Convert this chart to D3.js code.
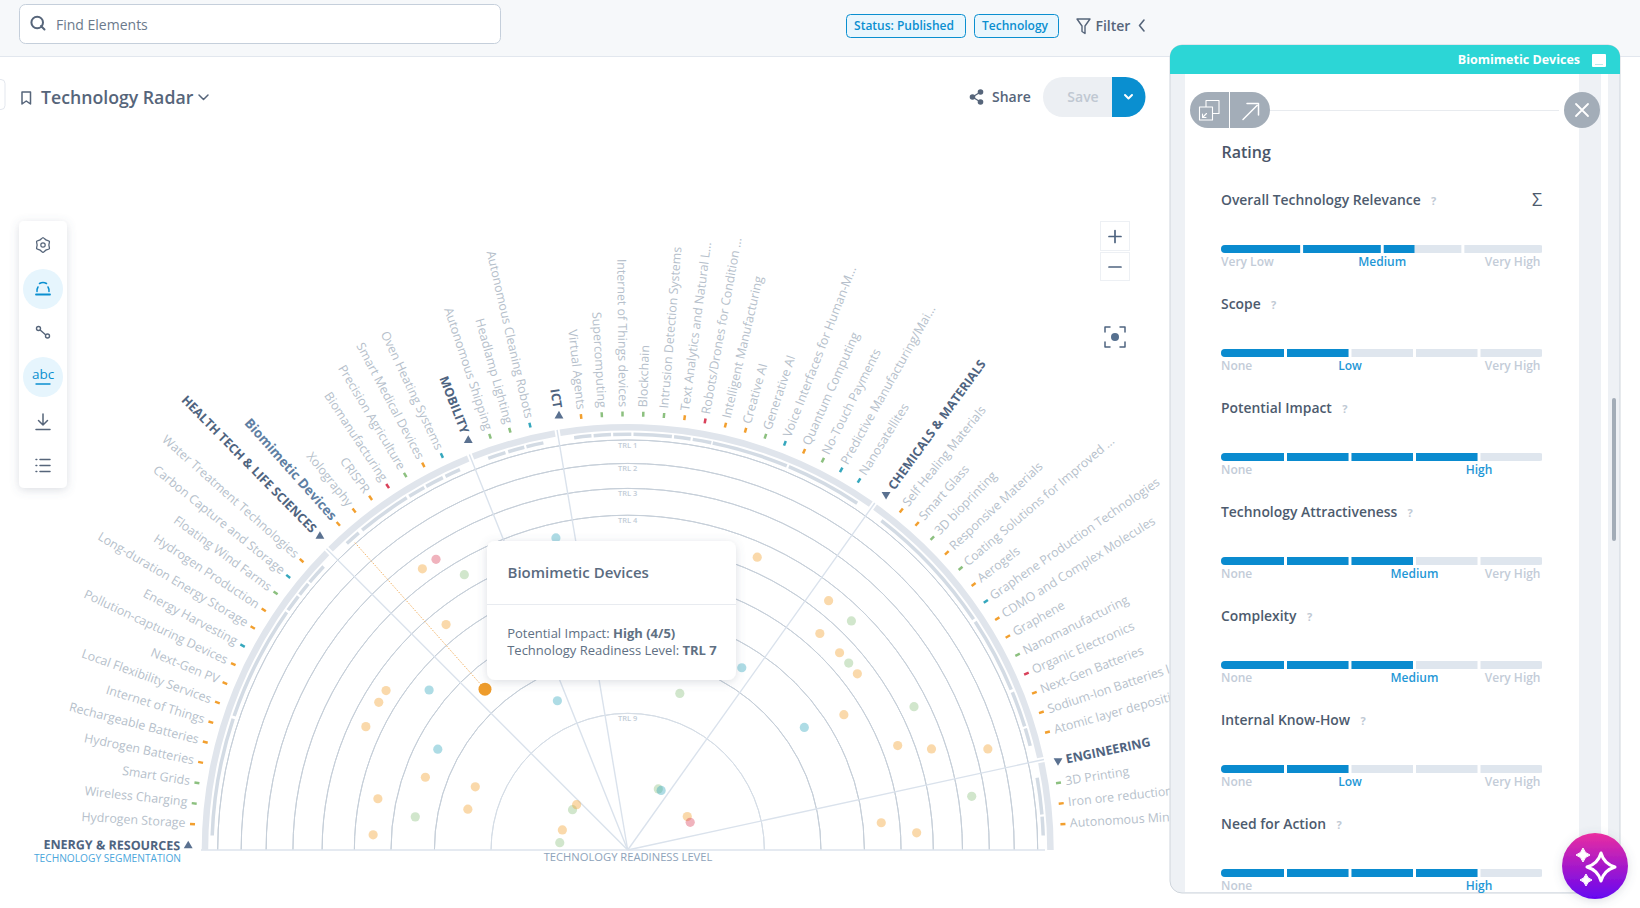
<!DOCTYPE html>
<html>
<head>
<meta charset="utf-8">
<title>Technology Radar</title>
<script src="https://cdn.jsdelivr.net/npm/d3@7"></script>
<style>
  html, body { margin: 0; padding: 0; background: #fff; overflow: hidden; }
  svg { display: block; font-family: "Open Sans", sans-serif; }
</style>
</head>
<body>
<div id="chart"></div>
<script>
// segments around the half circle, left to right
var groupNames = ["ENERGY & RESOURCES", "HEALTH TECH & LIFE SCIENCES", "MOBILITY", "ICT", "CHEMICALS & MATERIALS", "ENGINEERING"];
var groupSizes = [15, 7, 3, 15, 14, 3];

var techNames = [
  "Hydrogen Storage", "Wireless Charging", "Smart Grids", "Hydrogen Batteries", "Rechargeable Batteries",
  "Internet of Things", "Local Flexibility Services", "Next-Gen PV", "Pollution-capturing Devices", "Energy Harvesting",
  "Long-duration Energy Storage", "Hydrogen Production", "Floating Wind Farms", "Carbon Capture and Storage", "Water Treatment Technologies",
  "Biomimetic Devices", "Xolography", "CRISPR", "Biomanufacturing", "Precision Agriculture", "Smart Medical Devices", "Oven Heating Systems",
  "Autonomous Shipping", "Headlamp Lighting", "Autonomous Cleaning Robots",
  "Virtual Agents", "Supercomputing", "Internet of Things devices", "Blockchain", "Intrusion Detection Systems",
  "Text Analytics and Natural L...", "Robots/Drones for Condition ...", "Intelligent Manufacturing", "Creative AI", "Generative AI",
  "Voice Interfaces for Human-M...", "Quantum Computing", "No-Touch Payments", "Predictive Manufacturing/Mai...", "Nanosatellites",
  "Self Healing Materials", "Smart Glass", "3D bioprinting", "Responsive Materials", "Coating Solutions for Improved ...",
  "Aerogels", "Graphene Production Technologies", "CDMO and Complex Molecules", "Graphene", "Nanomanufacturing",
  "Organic Electronics", "Next-Gen Batteries", "Sodium-Ion Batteries l...", "Atomic layer deposition",
  "3D Printing", "Iron ore reduction", "Autonomous Mining"
];

// o orange, g green, t teal, r red
var techStatus = [
  "o","g","g","o","o","o","o","o","o","t","o","o","g","t","o",
  "o","o","o","r","g","o","t",
  "g","g","t",
  "o","g","g","g","g","o","r","o","o","g","t","o","g","t","t",
  "o","o","g","o","g","o","t","o","o","g","r","o","o","o",
  "g","o","o"
];

// readiness level per technology, null = hidden under the tooltip
var techTrl = [
  6,9,7,6,8,9,7,8,5,7,5,5,9,6,9,
  7,5,3,3,4,null,8,
  null,null,4,
  null,null,null,null,null,null,null,null,null,8,null,4,9,9,7,
  4,5,4,5,5,5,7,6,9,4,9,5,4,2,
  3,6,5
];

var selectedTech = "Biomimetic Devices";

// inner sub bars, start and end in degrees from the left end
var subBarStart = [2, 18.8, 35.2, 37.9, 40.1, 47.5, 50.3, 58.3, 61, 64, 70.4, 73.3, 75.9, 82.6, 85.3, 88, 90.8, 96.4, 99, 101.8, 112.8, 127.6, 146.7, 157.7, 163, 170, 175.4];
var subBarEnd   = [18.4, 34.9, 37.6, 39.8, 43, 49.7, 57.9, 60.7, 63.6, 66.2, 72.9, 75.6, 78.3, 85, 87.7, 90.5, 96.1, 98.7, 101.6, 112.5, 123.5, 146.3, 157.3, 162.7, 165.5, 175.1, 178];

var trlLevels = [1, 2, 3, 4, 5, 6, 7, 8, 9];
// ring captions that are not under the tooltip
var trlCaptions = [1, 2, 3, 4, 9];

// rating panel
var ratingNames = ["Overall Technology Relevance", "Scope", "Potential Impact", "Technology Attractiveness", "Complexity", "Internal Know-How", "Need for Action"];
var ratingSteps = [4, 5, 5, 5, 5, 5, 5];
var ratingValues = [2.4, 2, 4, 3, 3, 2, 4];
var ratingLabelAt = [2, 2, 4, 3, 3, 2, 4];
var ratingLow = ["Very Low", "None", "None", "None", "None", "None", "None"];
var ratingText = ["Medium", "Low", "High", "Medium", "Medium", "Low", "High"];
var ratingHigh = ["Very High", "Very High", "", "Very High", "Very High", "Very High", ""];

var statusColor = { o: "#f29f2e", g: "#8cc07f", t: "#35a7bd", r: "#d9415a" };

var width = 1640, height = 908, cx = 627.7, cy = 850;

var svg = d3.select("#chart").append("svg").attr("width", width).attr("height", height);

var defs = svg.append("defs");
var shadow = defs.append("filter").attr("id", "shadow").attr("x", "-20%").attr("y", "-20%").attr("width", "140%").attr("height", "140%");
shadow.append("feDropShadow").attr("dx", 0).attr("dy", 2).attr("stdDeviation", 5).attr("flood-color", "#5a6b7f").attr("flood-opacity", 0.22);
var grad = defs.append("linearGradient").attr("id", "magic").attr("x1", 0).attr("y1", 0).attr("x2", 0).attr("y2", 1);
grad.append("stop").attr("offset", "0%").attr("stop-color", "#ea2ea0");
grad.append("stop").attr("offset", "100%").attr("stop-color", "#6505f2");

function label(parent, x, y, str, size, color, weight, anchor) {
  return parent.append("text")
    .attr("x", x).attr("y", y - 0.8)
    .attr("dominant-baseline", "central")
    .attr("text-anchor", anchor || "start")
    .attr("font-size", size)
    .attr("font-weight", weight || 400)
    .attr("fill", color)
    .text(str);
}

function icon(parent, d, stroke, sw) {
  return parent.append("path").attr("d", d).attr("fill", "none").attr("stroke", stroke).attr("stroke-width", sw || 1.5)
    .attr("stroke-linecap", "round").attr("stroke-linejoin", "round");
}

// ------- scales -------
var angleScale = d3.scaleLinear().domain([0, 66]).range([0, 180]);
var radiusScale = d3.scaleSqrt().domain([0, 9]).range([0, 410]);

function ringRadius(trl) { return radiusScale(10 - trl); }
function bandRadius(trl) { return (ringRadius(trl) + ringRadius(trl + 1)) / 2; }
function polar(deg, r) {
  var a = deg * Math.PI / 180;
  return [cx - r * Math.cos(a), cy - r * Math.sin(a)];
}
function arcAngle(deg) { return (deg - 90) * Math.PI / 180; }

// slot position of every technology and every group boundary
var techSlots = [], groupBounds = [0];
var slot = 0;
groupSizes.forEach(function(n) {
  slot += 1.25;
  for (var i = 0; i < n; i++) {
    techSlots.push(slot);
    if (i < n - 1) slot += 1;
  }
  slot += 1.25;
  groupBounds.push(slot);
});

var techs = techNames.map(function(name, i) {
  return { name: name, status: techStatus[i], trl: techTrl[i], angle: angleScale(techSlots[i]) };
});

var radar = svg.append("g");

// ------- rings -------
radar.selectAll(".ring").data(trlLevels).enter().append("path")
  .attr("class", "ring")
  .attr("d", function(d) {
    return d3.arc()({ innerRadius: ringRadius(d), outerRadius: ringRadius(d), startAngle: arcAngle(0), endAngle: arcAngle(180) });
  })
  .attr("transform", "translate(" + cx + "," + cy + ")")
  .attr("fill", "none")
  .attr("stroke", function(d) { return d == 9 ? "#d5dde6" : "#c6cfd9"; })
  .attr("stroke-width", 1);

radar.selectAll(".trl").data(trlCaptions).enter().append("text")
  .attr("class", "trl")
  .attr("x", cx)
  .attr("y", function(d) { return cy - ringRadius(d) + 5; })
  .attr("dominant-baseline", "central")
  .attr("text-anchor", "middle")
  .attr("font-size", 7.5)
  .attr("font-weight", 600)
  .attr("fill", "#c2ccd7")
  .text(function(d) { return "TRL " + d; });

// base line and group dividers
radar.append("line").attr("x1", 201).attr("x2", 1045).attr("y1", cy).attr("y2", cy).attr("stroke", "#dde3ec").attr("stroke-width", 1.6);

radar.selectAll(".divider").data(groupBounds.slice(1, -1)).enter().append("line")
  .attr("class", "divider")
  .attr("x1", cx).attr("y1", cy)
  .attr("x2", function(d) { return polar(angleScale(d), 426)[0]; })
  .attr("y2", function(d) { return polar(angleScale(d), 426)[1]; })
  .attr("stroke", "#dae2ec")
  .attr("stroke-width", 1.4);

// outer band, one piece per group
var band = d3.arc().innerRadius(419.5).outerRadius(426);
radar.selectAll(".band").data(d3.range(groupNames.length)).enter().append("path")
  .attr("class", "band")
  .attr("transform", "translate(" + cx + "," + cy + ")")
  .attr("d", function(i) {
    var a0 = angleScale(groupBounds[i]) + (i ? 0.35 : 0);
    var a1 = angleScale(groupBounds[i + 1]) - (i < groupNames.length - 1 ? 0.35 : 0);
    return band({ startAngle: arcAngle(a0), endAngle: arcAngle(a1) });
  })
  .attr("fill", "#e0e5ec");

// inner sub bars
var subBar = d3.arc().innerRadius(414).outerRadius(417.5);
radar.selectAll(".subbar").data(subBarStart).enter().append("path")
  .attr("class", "subbar")
  .attr("transform", "translate(" + cx + "," + cy + ")")
  .attr("d", function(d, i) {
    return subBar({ startAngle: arcAngle(d), endAngle: arcAngle(subBarEnd[i]) });
  })
  .attr("fill", "#d3dbe4");

// ticks
radar.selectAll(".tick").data(techs).enter().append("line")
  .attr("class", "tick")
  .attr("x1", function(d) { return polar(d.angle, 433.5)[0]; })
  .attr("y1", function(d) { return polar(d.angle, 433.5)[1]; })
  .attr("x2", function(d) { return polar(d.angle, 438.5)[0]; })
  .attr("y2", function(d) { return polar(d.angle, 438.5)[1]; })
  .attr("stroke", function(d) { return statusColor[d.status]; })
  .attr("stroke-width", 2.5);

// technology names
radar.selectAll(".tech").data(techs).enter().append("text")
  .attr("class", "tech")
  .attr("transform", function(d) {
    var p = polar(d.angle, 443);
    var rot = d.angle <= 90 ? d.angle : d.angle - 180;
    return "translate(" + p[0] + "," + p[1] + ") rotate(" + rot + ")";
  })
  .attr("y", -1)
  .attr("dominant-baseline", "central")
  .attr("text-anchor", function(d) { return d.angle <= 90 ? "end" : "start"; })
  .attr("font-size", function(d) { return d.name == selectedTech ? 13.4 : 12.4; })
  .attr("font-weight", function(d) { return d.name == selectedTech ? 700 : 400; })
  .attr("fill", function(d) { return d.name == selectedTech ? "#5f7fa3" : "#b6bfcb"; })
  .text(function(d) { return d.name; });

// group names with their small triangle
var groupAngles = groupBounds.slice(0, -1).map(function(b) { return angleScale(b) + 0.55; });

radar.selectAll(".group").data(groupNames).enter().append("text")
  .attr("class", "group")
  .attr("transform", function(d, i) {
    var p = polar(groupAngles[i], 447.5);
    var rot = groupAngles[i] <= 90 ? groupAngles[i] : groupAngles[i] - 180;
    return "translate(" + p[0] + "," + p[1] + ") rotate(" + rot + ")";
  })
  .attr("dominant-baseline", "central")
  .attr("text-anchor", function(d, i) { return groupAngles[i] <= 90 ? "end" : "start"; })
  .attr("font-size", 12.5)
  .attr("font-weight", 700)
  .attr("fill", "#4f6480")
  .text(function(d) { return d; });

radar.selectAll(".marker").data(groupNames).enter().append("path")
  .attr("class", "marker")
  .attr("d", d3.symbol().type(d3.symbolTriangle).size(34))
  .attr("transform", function(d, i) {
    var p = polar(groupAngles[i], 439.5);
    return "translate(" + p[0] + "," + p[1] + ") rotate(" + (groupAngles[i] <= 90 ? 0 : 180) + ")";
  })
  .attr("fill", "#5a7190");

// selection guide and points
var selected = techs.filter(function(d) { return d.name == selectedTech; })[0];
var guideA = polar(selected.angle, 411), guideB = polar(selected.angle, bandRadius(selected.trl));
radar.append("line")
  .attr("x1", guideA[0]).attr("y1", guideA[1]).attr("x2", guideB[0]).attr("y2", guideB[1])
  .attr("stroke", "#f3b468").attr("stroke-width", 1).attr("stroke-dasharray", "1.5,1.5");

var dots = techs.filter(function(d) { return d.trl != null; });
radar.selectAll(".dot").data(dots).enter().append("circle")
  .attr("class", "dot")
  .attr("cx", function(d) { return polar(d.angle, bandRadius(d.trl))[0]; })
  .attr("cy", function(d) { return polar(d.angle, bandRadius(d.trl))[1]; })
  .attr("r", function(d) { return d.name == selectedTech ? 6.5 : 4.6; })
  .attr("fill", function(d) { return d.name == selectedTech ? "#ee9c2c" : statusColor[d.status]; })
  .attr("opacity", function(d) { return d.name == selectedTech ? 1 : 0.4; });

// axis captions
label(radar, 628, 857, "TECHNOLOGY READINESS LEVEL", 11.2, "#8ea3ba", 400, "middle");
label(radar, 181, 858.5, "TECHNOLOGY SEGMENTATION", 10.2, "#4aa6dc", 400, "end");

// ------- tooltip -------
var tip = svg.append("g");
tip.append("rect").attr("x", 487).attr("y", 541).attr("width", 249).attr("height", 139).attr("rx", 8)
  .attr("fill", "#fff").attr("filter", "url(#shadow)");
label(tip, 507.5, 572.5, "Biomimetic Devices", 15, "#5a6b7f", 600);
tip.append("line").attr("x1", 487).attr("x2", 736).attr("y1", 604.5).attr("y2", 604.5).attr("stroke", "#e8ebf0");
var t1 = label(tip, 507.2, 633.5, "Potential Impact: ", 13, "#607083");
t1.append("tspan").attr("font-weight", 700).text("High (4/5)");
var t2 = label(tip, 507.2, 650.5, "Technology Readiness Level: ", 13, "#607083");
t2.append("tspan").attr("font-weight", 700).text("TRL 7");

// ------- top bar -------
var top_ = svg.append("g");
top_.append("rect").attr("width", width).attr("height", 56).attr("fill", "#f6f8fa");
top_.append("line").attr("x1", 0).attr("x2", width).attr("y1", 56.5).attr("y2", 56.5).attr("stroke", "#e2e7ee");
top_.append("rect").attr("x", 19.5).attr("y", 4.5).attr("width", 481).attr("height", 39).attr("rx", 6).attr("fill", "#fff").attr("stroke", "#c5cfdb");
icon(top_, "M44.5 29.5l-3.5-3.500M43 22.500a5.800 5.800 0 1 1-11.600 0a5.800 5.800 0 1 1 11.600 0z", "#56657a", 2);
label(top_, 56, 25.3, "Find Elements", 14, "#6b7a8c");

top_.append("rect").attr("x", 846.5).attr("y", 14.5).attr("width", 119).attr("height", 23).attr("rx", 4).attr("fill", "#e9f6fd").attr("stroke", "#0a8fd0");
label(top_, 904, 26, "Status: Published", 12, "#0a8fd0", 600, "middle");
top_.append("rect").attr("x", 974.5).attr("y", 14.5).attr("width", 84).attr("height", 23).attr("rx", 4).attr("fill", "#e9f6fd").attr("stroke", "#0a8fd0");
label(top_, 1015, 26, "Technology", 12, "#0a8fd0", 600, "middle");
icon(top_, "M1077 19h13l-5 7v7.500l-3-2v-5.500z", "#56657a", 1.4);
label(top_, 1095.5, 26, "Filter", 14, "#56657a", 600);
icon(top_, "M1144 20l-4.500 5.500l4.500 5.500", "#56657a", 1.6);

// title row
svg.append("rect").attr("x", -10).attr("y", 79.5).attr("width", 15).attr("height", 30).attr("rx", 4).attr("fill", "#fff").attr("stroke", "#e3e7ee");
icon(svg, "M22 92h8.500v12l-4.250-3l-4.250 3z", "#56657a", 1.5);
label(svg, 41, 97.5, "Technology Radar", 17.7, "#56657a", 600);
icon(svg, "M199 95l4.500 4.500l4.500-4.500", "#56657a", 1.5);

icon(svg, "M980.500 92l-8 5l8 5", "#56657a", 1.4);
svg.selectAll(".share").data([[980.5, 92], [972.5, 97], [980.5, 102]]).enter().append("circle")
  .attr("class", "share").attr("cx", function(d) { return d[0]; }).attr("cy", function(d) { return d[1]; }).attr("r", 2.8).attr("fill", "#56657a");
label(svg, 992, 97, "Share", 14, "#56657a", 600);

svg.append("path").attr("d", "M1112 77h13.500a20 20 0 0 1 0 40h-13.500z").attr("fill", "#0a8fd0");
svg.append("path").attr("d", "M1112 77h-49a20 20 0 0 0 0 40h49z").attr("fill", "#eceff3");
label(svg, 1083, 97, "Save", 14, "#c0c8d2", 600, "middle");
icon(svg, "M1125 95l3.500 3.500l3.500-3.500", "#fff", 2);

// ------- tool strip -------
var tools = svg.append("g");
tools.append("rect").attr("x", 19).attr("y", 221).attr("width", 48).attr("height", 267).attr("rx", 5).attr("fill", "#fff").attr("filter", "url(#shadow)");
tools.append("circle").attr("cx", 43).attr("cy", 289).attr("r", 20).attr("fill", "#e6f5fd");
tools.append("circle").attr("cx", 43).attr("cy", 377).attr("r", 20).attr("fill", "#e6f5fd");
// gear, teeth alternate between two radii
var gear = d3.lineRadial().curve(d3.curveCardinalClosed.tension(0.5))
  .angle(function(d, i) { return i * Math.PI / 6; })
  .radius(function(d) { return d; });
tools.append("path").attr("d", gear([7.4, 5.9, 7.4, 5.9, 7.4, 5.9, 7.4, 5.9, 7.4, 5.9, 7.4, 5.9]))
  .attr("transform", "translate(43,245)").attr("fill", "none").attr("stroke", "#56657a").attr("stroke-width", 1.3);
tools.append("circle").attr("cx", 43).attr("cy", 245).attr("r", 2.2).attr("fill", "none").attr("stroke", "#56657a").attr("stroke-width", 1.2);
// half radar
icon(tools, "M37 291.500a7 7 0 0 1 1-4.500M49 291.500a7 7 0 0 0-1-4.500M39.500 283.500a7 7 0 0 1 7 0", "#0a8fd0", 1.5);
icon(tools, "M36 294.500h14", "#0a8fd0", 1.8);
// nodes
icon(tools, "M39 329l8 7", "#56657a", 1.4);
tools.append("circle").attr("cx", 38.5).attr("cy", 328.5).attr("r", 2).attr("fill", "#fff").attr("stroke", "#56657a").attr("stroke-width", 1.4);
tools.append("circle").attr("cx", 47.5).attr("cy", 336).attr("r", 2).attr("fill", "#fff").attr("stroke", "#56657a").attr("stroke-width", 1.4);
label(tools, 43, 375, "abc", 13.5, "#0a8fd0", 400, "middle");
icon(tools, "M36 384h14", "#0a8fd0", 1.4);
// download
icon(tools, "M43 414v11M38.500 420.500l4.500 4.500l4.500-4.500M36 429.500h14", "#56657a", 1.5);
// list
icon(tools, "M40 459.500h10M40 465.500h10M40 471.500h10M36 459.500h0.800M36 465.500h0.800M36 471.500h0.800", "#56657a", 1.5);

// zoom buttons and focus icon
svg.append("rect").attr("x", 1100.5).attr("y", 221.5).attr("width", 29).attr("height", 29).attr("fill", "#fff").attr("stroke", "#edf0f4");
svg.append("rect").attr("x", 1100.5).attr("y", 252.5).attr("width", 29).attr("height", 28).attr("fill", "#fff").attr("stroke", "#edf0f4");
icon(svg, "M1109 236.500h12M1115 230.500v12", "#4f6480", 1.7);
icon(svg, "M1109 267h12", "#4f6480", 1.7);
icon(svg, "M1105 332v-5h5M1120 327h5v5M1125 342v5h-5M1110 347h-5v-5", "#4f6480", 1.5);
svg.append("circle").attr("cx", 1115).attr("cy", 337).attr("r", 4).attr("fill", "#56708f");

// ------- rating panel -------
var panel = svg.append("g");
panel.append("rect").attr("x", 1170).attr("y", 45).attr("width", 450).attr("height", 848).attr("rx", 12).attr("fill", "#eef1f5").attr("stroke", "#cfd5dc");
panel.append("rect").attr("x", 1185).attr("y", 74).attr("width", 394).attr("height", 818).attr("fill", "#fff");
panel.append("rect").attr("x", 1601).attr("y", 74).attr("width", 7).attr("height", 818).attr("fill", "#fff");
panel.append("path").attr("d", "M1170 74v-17a12 12 0 0 1 12-12h426a12 12 0 0 1 12 12v17z").attr("fill", "#2cd6d6");
label(panel, 1580, 60.5, "Biomimetic Devices", 12.5, "#fff", 700, "end");
panel.append("rect").attr("x", 1592).attr("y", 54).attr("width", 14).attr("height", 13).attr("rx", 1).attr("fill", "#fff");
panel.append("line").attr("x1", 1595).attr("x2", 1603).attr("y1", 64.5).attr("y2", 64.5).attr("stroke", "#b9e9ea");
panel.append("rect").attr("x", 1612).attr("y", 398).attr("width", 4).attr("height", 143).attr("rx", 2).attr("fill", "#a3adb8");

panel.append("line").attr("x1", 1270).attr("x2", 1559).attr("y1", 110.5).attr("y2", 110.5).attr("stroke", "#e8ebef");
panel.append("rect").attr("x", 1190).attr("y", 92).attr("width", 80).attr("height", 36).attr("rx", 18).attr("fill", "#a3adb8");
panel.append("line").attr("x1", 1229.5).attr("x2", 1229.5).attr("y1", 92).attr("y2", 128).attr("stroke", "#fff");
icon(panel, "M1206 107h-6.500v13h13v-6.500M1206 107v-6.500h13v13h-6.500v-6.500zM1206.500 113.500l-4 4M1202.500 114v3.500h3.500", "#fff", 1.1);
icon(panel, "M1243 119.500l14-14M1247 103.500h11.500v11.500", "#fff", 1.5);
panel.append("circle").attr("cx", 1582).attr("cy", 110).attr("r", 18).attr("fill", "#a3adb8");
icon(panel, "M1576 104l12 12M1588 104l-12 12", "#fff", 1.8);

label(panel, 1221.5, 152.5, "Rating", 16, "#4a5568", 600);

var barLeft = 1221, barRight = 1543.5;
var rowY = d3.scaleLinear().domain([0, 6]).range([200, 824]);

ratingNames.forEach(function(name, i) {
  var y0 = rowY(i);
  var bar = d3.scaleLinear().domain([0, ratingSteps[i]]).range([barLeft, barRight]);

  var nameText = label(panel, 1221, y0, name, 13.9, "#4d5b6e", 600);
  var nameEnd = nameText.node().getComputedTextLength();
  label(panel, 1221 + nameEnd + 13, y0 + 1, "?", 11, "#c0c9d4", 700, "middle");

  defs.append("clipPath").attr("id", "track" + i).append("rect")
    .attr("x", barLeft).attr("y", y0 + 45).attr("width", barRight - barLeft).attr("height", 8).attr("rx", 4);

  var row = panel.append("g").attr("clip-path", "url(#track" + i + ")");
  var steps = d3.range(ratingSteps[i]);

  row.selectAll(".seg").data(steps).enter().append("rect")
    .attr("class", "seg")
    .attr("x", function(d) { return bar(d) + (d ? 1.5 : 0); })
    .attr("y", y0 + 45)
    .attr("width", function(d) { return bar(d + 1) - bar(d) - (d ? 3 : 1.5); })
    .attr("height", 8)
    .attr("fill", "#dfe6ee");

  row.selectAll(".fill").data(steps.filter(function(d) { return d < ratingValues[i]; })).enter().append("rect")
    .attr("class", "fill")
    .attr("x", function(d) { return bar(d) + (d ? 1.5 : 0); })
    .attr("y", y0 + 45)
    .attr("width", function(d) {
      var end = Math.min(d + 1, ratingValues[i]);
      return bar(end) - bar(d) - (d ? 1.5 : 0) - (end == d + 1 ? 1.5 : 0);
    })
    .attr("height", 8)
    .attr("fill", "#0a8bcf");

  label(panel, barLeft, y0 + 62, ratingLow[i], 12, "#c3ccd8", 600);
  label(panel, bar(ratingLabelAt[i]), y0 + 62, ratingText[i], 12, "#1f97d6", 600, "middle");
  if (ratingHigh[i]) label(panel, 1540.5, y0 + 62, ratingHigh[i], 12, "#c3ccd8", 600, "end");
});

label(panel, 1537, 200, "Σ", 18, "#4d5b6e", 400, "middle");

// magic button
svg.append("circle").attr("cx", 1595).attr("cy", 866).attr("r", 33).attr("fill", "url(#magic)").attr("filter", "url(#shadow)");
function sparkle(x, y, r, inner) {
  var k = r * 0.22;
  var d = "M" + x + " " + (y - r) + "Q" + (x + k) + " " + (y - k) + " " + (x + r) + " " + y +
    "Q" + (x + k) + " " + (y + k) + " " + x + " " + (y + r) +
    "Q" + (x - k) + " " + (y + k) + " " + (x - r) + " " + y +
    "Q" + (x - k) + " " + (y - k) + " " + x + " " + (y - r) + "z";
  svg.append("path").attr("d", d).attr("fill", inner ? "none" : "#fff").attr("stroke", "#fff").attr("stroke-width", inner ? 3 : 1).attr("stroke-linejoin", "round");
}
sparkle(1601, 867, 14, true);
sparkle(1583, 855, 7, false);
sparkle(1586, 880, 6, false);
</script>
</body>
</html>
